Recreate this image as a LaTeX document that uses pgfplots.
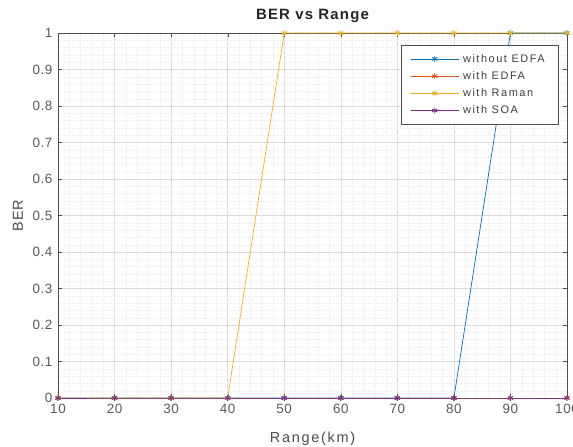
\documentclass[border=0pt]{standalone}
\usepackage{pgfplots}
\pgfplotsset{compat=1.18}
\usepackage{fontspec}
\setmainfont{Liberation Sans}
\definecolor{mblue}{rgb}{0,0.447,0.741}
\definecolor{mred}{rgb}{0.85,0.325,0.098}
\definecolor{myellow}{rgb}{0.929,0.694,0.125}
\definecolor{mpurple}{rgb}{0.494,0.184,0.556}
\begin{document}
\begin{tikzpicture}
\begin{axis}[
  name=ax,
  scale only axis,
  width=509bp, height=365bp,
  xmin=10, xmax=100, ymin=0, ymax=1,
  xtick={10,20,...,100},
  ytick={0,0.1,...,1},
  yticklabels={0,0.1,0.2,0.3,0.4,0.5,0.6,0.7,0.8,0.9,1},
  minor x tick num=4, minor y tick num=4,
  grid=both,
  major grid style={gray!28, line width=0.4pt},
  minor grid style={gray!12, densely dotted, line width=0.3pt},
  axis line style={gray!60!black, line width=0.6pt},
  tick style={gray!60!black},
  tick align=inside,
  major tick length=4bp, minor tick length=0pt,
  tick label style={font=\fontsize{13.5}{15}\selectfont\addfontfeature{LetterSpace=4}, text=black!65},
  xticklabel style={yshift=-3bp},
  yticklabel style={xshift=-2bp},
  /pgf/number format/assume math mode=true,
  xlabel={Range(km)}, ylabel={BER},
  xlabel style={at={(axis description cs:0.5,0)}, anchor=base, yshift=-44bp,
    font=\fontsize{14.5}{16}\selectfont\addfontfeature{LetterSpace=12}, text=black!70},
  ylabel style={at={(axis description cs:0,0.5)}, anchor=base, yshift=35bp,
    font=\fontsize{14.5}{16}\selectfont\addfontfeature{LetterSpace=5}, text=black!70},
  title={BER vs Range},
  title style={at={(axis description cs:0.5,1)}, anchor=base, yshift=8bp,
    font=\bfseries\fontsize{15}{17}\selectfont\addfontfeature{LetterSpace=8}, text=black!85},
  legend style={at={(axis description cs:1,1)}, xshift=-9bp, yshift=-12bp, anchor=north east,
    font=\fontsize{11}{13}\selectfont\addfontfeature{LetterSpace=14}, text=black!75,
    draw=gray!60!black, row sep=3.8pt, inner xsep=9bp, inner ysep=7bp,
    nodes={inner xsep=4bp}},
  legend cell align=left,
  legend image code/.code={\draw[#1] (0bp,0bp) -- (48bp,0bp); \draw[#1, mark repeat=2, mark phase=2] plot coordinates {(0bp,0bp)(24bp,0bp)(48bp,0bp)};},
  every axis plot/.append style={line width=0.7pt, mark=asterisk, mark size=3pt},
]
\addplot[mblue, mark options={mblue, line width=0.9pt}] coordinates {(10,0)(20,0)(30,0)(40,0)(50,0)(60,0)(70,0)(80,0)(90,1)(100,1)};
\addplot[mred, mark options={mred, line width=0.9pt}] coordinates {(10,0)(20,0)(30,0)(40,0)(50,0)(60,0)(70,0)(80,0)(90,0)(100,0)};
\addplot[myellow, mark options={myellow, line width=0.9pt}] coordinates {(10,0)(20,0)(30,0)(40,0)(50,1)(60,1)(70,1)(80,1)(90,1)(100,1)};
\addplot[mpurple, mark options={mpurple, line width=0.9pt}] coordinates {(10,0)(20,0)(30,0)(40,0)(50,0)(60,0)(70,0)(80,0)(90,0)(100,0)};
\legend{without EDFA, with EDFA, with Raman, with SOA}
\end{axis}
\pgfresetboundingbox
\path[use as bounding box] ([xshift=-58bp,yshift=-49bp]ax.south west) rectangle ([xshift=6bp,yshift=33bp]ax.north east);
\end{tikzpicture}
\end{document}
